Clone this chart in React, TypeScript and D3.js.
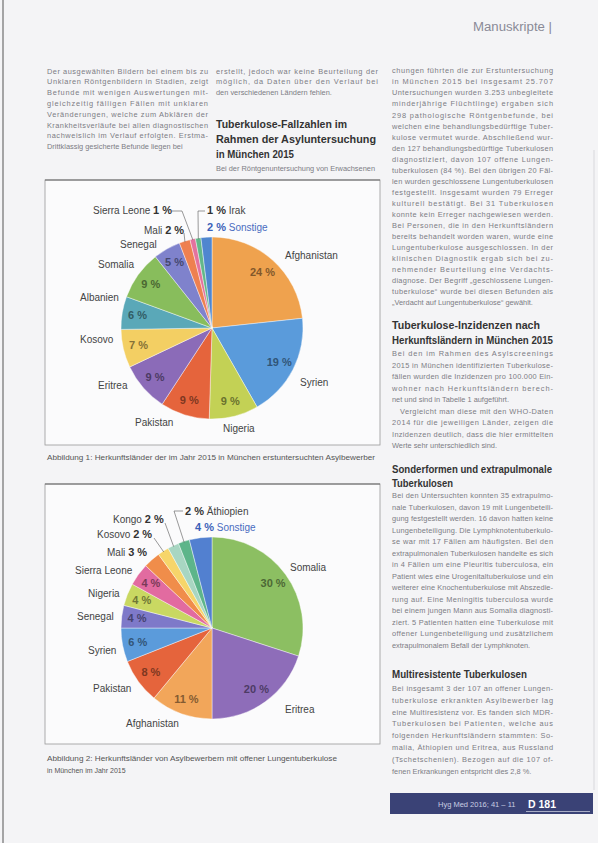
import React from 'react';
import * as d3 from 'd3';

// ---------- DATA ----------
const chart1Countries = ['Afghanistan', 'Syrien', 'Nigeria', 'Pakistan', 'Eritrea', 'Kosovo', 'Albanien', 'Somalia', 'Senegal', 'Mali', 'Sierra Leone', 'Irak', 'Sonstige'];
const chart1Values = [24, 19, 9, 9, 9, 7, 6, 9, 5, 2, 1, 1, 2];

const chart2Countries = ['Somalia', 'Eritrea', 'Afghanistan', 'Pakistan', 'Syrien', 'Senegal', 'Nigeria', 'Sierra Leone', 'Mali', 'Kosovo', 'Kongo', 'Äthiopien', 'Sonstige'];
const chart2Values = [30, 20, 11, 8, 6, 4, 4, 4, 3, 2, 2, 2, 4];

const caption1 = 'Abbildung 1: Herkunftsländer der im Jahr 2015 in München erstuntersuchten Asylbewerber';
const caption2a = 'Abbildung 2: Herkunftsländer von Asylbewerbern mit offener Lungentuberkulose';
const caption2b = 'in München im Jahr 2015';

const headerText = 'Manuskripte |';
const footerText = 'Hyg Med 2016; 41 – 11';
const footerPage = 'D 181';

const col1Paragraphs = [[
  'Der ausgewählten Bildern bei einem bis zu',
  'Unklaren Röntgenbildern in Stadien, zeigt',
  'Befunde mit wenigen Auswertungen mit-',
  'gleichzeitig fälligen Fällen mit unklaren',
  'Veränderungen, welche zum Abklären der',
  'Krankheitsverläufe bei allen diagnostischen',
  'nachweislich im Verlauf erfolgten. Erstma-',
  'Drittklassig gesicherte Befunde liegen bei',
]];
const col2Paragraphs = [[
  'erstellt, jedoch war keine Beurteilung der',
  'möglich, da Daten über den Verlauf bei',
  'den verschiedenen Ländern fehlen.',
]];
const col2Heading = ['Tuberkulose-Fallzahlen im', 'Rahmen der Asyluntersuchung', 'in München 2015'];
const col2After = [['Bei der Röntgenuntersuchung von Erwachsenen']];

const col3BlockA = [[
  'chungen führten die zur Erstuntersuchung',
  'in München 2015 bei insgesamt 25.707',
  'Untersuchungen wurden 3.253 unbegleitete',
  'minderjährige Flüchtlinge) ergaben sich',
  '298 pathologische Röntgenbefunde, bei',
  'welchen eine behandlungsbedürftige Tuber-',
  'kulose vermutet wurde. Abschließend wur-',
  'den 127 behandlungsbedürftige Tuberkulosen',
  'diagnostiziert, davon 107 offene Lungen-',
  'tuberkulosen (84 %). Bei den übrigen 20 Fäl-',
  'len wurden geschlossene Lungentuberkulosen',
  'festgestellt. Insgesamt wurden 79 Erreger',
  'kulturell bestätigt. Bei 31 Tuberkulosen',
  'konnte kein Erreger nachgewiesen werden.',
  'Bei Personen, die in den Herkunftsländern',
  'bereits behandelt worden waren, wurde eine',
  'Lungentuberkulose ausgeschlossen. In der',
  'klinischen Diagnostik ergab sich bei zu-',
  'nehmender Beurteilung eine Verdachts-',
  'diagnose. Der Begriff „geschlossene Lungen-',
  'tuberkulose“ wurde bei diesen Befunden als',
  '„Verdacht auf Lungentuberkulose“ gewählt.',
]];
const col3Heading1 = ['Tuberkulose-Inzidenzen nach', 'Herkunftsländern in München 2015'];
const col3BlockB = [[
  'Bei den im Rahmen des Asylscreenings',
  '2015 in München identifizierten Tuberkulose-',
  'fällen wurden die Inzidenzen pro 100.000 Ein-',
  'wohner nach Herkunftsländern berech-',
  'net und sind in Tabelle 1 aufgeführt.',
], [
  'Vergleicht man diese mit den WHO-Daten',
  '2014 für die jeweiligen Länder, zeigen die',
  'Inzidenzen deutlich, dass die hier ermittelten',
  'Werte sehr unterschiedlich sind.',
]];
const col3Heading2 = ['Sonderformen und extrapulmonale', 'Tuberkulosen'];
const col3BlockC = [[
  'Bei den Untersuchten konnten 35 extrapulmo-',
  'nale Tuberkulosen, davon 19 mit Lungenbeteili-',
  'gung festgestellt werden. 16 davon hatten keine',
  'Lungenbeteiligung. Die Lymphknotentuberkulo-',
  'se war mit 17 Fällen am häufigsten. Bei den',
  'extrapulmonalen Tuberkulosen handelte es sich',
  'in 4 Fällen um eine Pleuritis tuberculosa, ein',
  'Patient wies eine Urogenitaltuberkulose und ein',
  'weiterer eine Knochentuberkulose mit Abszedie-',
  'rung auf. Eine Meningitis tuberculosa wurde',
  'bei einem jungen Mann aus Somalia diagnosti-',
  'ziert. 5 Patienten hatten eine Tuberkulose mit',
  'offener Lungenbeteiligung und zusätzlichem',
  'extrapulmonalem Befall der Lymphknoten.',
]];
const col3Heading3 = ['Multiresistente Tuberkulosen'];
const col3BlockD = [[
  'Bei insgesamt 3 der 107 an offener Lungen-',
  'tuberkulose erkrankten Asylbewerber lag',
  'eine Multiresistenz vor. Es fanden sich MDR-',
  'Tuberkulosen bei Patienten, welche aus',
  'folgenden Herkunftsländern stammten: So-',
  'malia, Äthiopien und Eritrea, aus Russland',
  '(Tschetschenien). Bezogen auf die 107 of-',
  'fenen Erkrankungen entspricht dies 2,8 %.',
]];

// ---------- STYLES / LAYOUT ----------
const chart1Colors = ['#EFA24E', '#5A9BDB', '#C3D155', '#E5643C', '#8B6BB8', '#F3CF63', '#5AA8B8', '#88BD5C', '#7F82CC', '#EE8050', '#E4729E', '#63B889', '#4F86CF'];
const chart2Colors = ['#8CBF62', '#8E6DB9', '#F2A65A', '#E5643C', '#5B9BDB', '#7E79C9', '#C9D862', '#E26BA0', '#F08D4A', '#F6D56A', '#A8D6C2', '#5DB58A', '#5280D0'];

type Lbl = { x: number; y: number; kind: 'name' | 'namePct' | 'pctName'; leader?: [number, number][] };

const chart1Labels: Lbl[] = [
  { x: 285, y: 259, kind: 'name' },
  { x: 300, y: 386, kind: 'name' },
  { x: 223, y: 432, kind: 'name' },
  { x: 135, y: 426, kind: 'name' },
  { x: 98, y: 389, kind: 'name' },
  { x: 80, y: 343, kind: 'name' },
  { x: 80, y: 301, kind: 'name' },
  { x: 98, y: 268, kind: 'name' },
  { x: 120, y: 248, kind: 'name' },
  { x: 144, y: 234, kind: 'namePct', leader: [[184, 233]] },
  { x: 93, y: 214, kind: 'namePct', leader: [[172, 211], [182, 211]] },
  { x: 207, y: 214, kind: 'pctName', leader: [[205, 211], [198, 211]] },
  { x: 207, y: 231, kind: 'pctName' },
];
const chart2Labels: Lbl[] = [
  { x: 290, y: 571, kind: 'name' },
  { x: 285, y: 713, kind: 'name' },
  { x: 126, y: 727, kind: 'name' },
  { x: 93, y: 692, kind: 'name' },
  { x: 88, y: 654, kind: 'name' },
  { x: 77, y: 620, kind: 'name' },
  { x: 88, y: 597, kind: 'name' },
  { x: 75, y: 574, kind: 'name' },
  { x: 107, y: 556, kind: 'namePct' },
  { x: 97, y: 538, kind: 'namePct', leader: [[154, 538]] },
  { x: 113, y: 523, kind: 'namePct', leader: [[165, 523]] },
  { x: 185, y: 515, kind: 'pctName', leader: [[183, 511], [174, 511]] },
  { x: 195, y: 531, kind: 'pctName' },
];

const FONT = 'Liberation Sans, Arial, sans-serif';
const BODY_COLOR = '#7c7c84';

function Pie({ cx, cy, r, countries, values, colors, labels }: any) {
  const pie = d3.pie<number>().sort(null).value((d) => d);
  const arcs = pie(values);
  const arc = d3.arc<d3.PieArcDatum<number>>().innerRadius(0).outerRadius(r);
  const labelArc = d3.arc<d3.PieArcDatum<number>>().innerRadius(r * 0.83).outerRadius(r * 0.83);
  const outerPt = (a: d3.PieArcDatum<number>) => {
    const m = (a.startAngle + a.endAngle) / 2;
    return [cx + Math.sin(m) * (r - 1), cy - Math.cos(m) * (r - 1)];
  };
  return (
    <g>
      <g transform={`translate(${cx},${cy})`}>
        {arcs.map((a, i) => (
          <path key={i} d={arc(a) as string} fill={colors[i]} stroke="#ffffff" strokeWidth={0.6} strokeOpacity={0.7} />
        ))}
        {arcs.map((a, i) => {
          if (labels[i].kind !== 'name') return null;
          const [x, y] = labelArc.centroid(a);
          const c = d3.color(colors[i])!.darker(1.7).formatHex();
          return (
            <text key={i} x={x} y={y} dy="0.35em" textAnchor="middle" fontFamily={FONT} fontWeight="bold" fontSize={11} fill={c}>
              {`${values[i]} %`}
            </text>
          );
        })}
      </g>
      {labels.map((l: Lbl, i: number) => {
        if (!l.leader) return null;
        const pts = [...l.leader, outerPt(arcs[i])];
        return <polyline key={'l' + i} points={pts.map((p) => p.join(',')).join(' ')} fill="none" stroke="#555" strokeWidth={0.6} />;
      })}
      {labels.map((l: Lbl, i: number) => {
        const isOther = countries[i] === 'Sonstige';
        const nameFill = isOther ? '#4a6cc0' : '#444';
        const pctFill = isOther ? '#3a5fb8' : '#333';
        const pct = `${values[i]} %`;
        return (
          <text key={'t' + i} x={l.x} y={l.y} fontFamily={FONT} fontSize={10} fill={nameFill}>
            {l.kind === 'name' && countries[i]}
            {l.kind === 'namePct' && (
              <>
                <tspan>{countries[i] + ' '}</tspan>
                <tspan fontWeight="bold" fontSize={11} fill={pctFill}>{pct}</tspan>
              </>
            )}
            {l.kind === 'pctName' && (
              <>
                <tspan fontWeight="bold" fontSize={11} fill={pctFill}>{pct}</tspan>
                <tspan>{' ' + countries[i]}</tspan>
              </>
            )}
          </text>
        );
      })}
    </g>
  );
}

function TextBlock({ x, width, y0, step, paragraphs }: { x: number; width: number; y0: number; step: number; paragraphs: string[][] }) {
  const out: any[] = [];
  let idx = 0;
  paragraphs.forEach((p, pi) => {
    p.forEach((line, li) => {
      const last = li === p.length - 1;
      const indent = pi > 0 && li === 0 ? 8 : 0;
      const y = y0 + idx * step;
      out.push(
        <text key={idx} x={x + indent} y={y} fontFamily={FONT} fontSize={7.4} fill={BODY_COLOR}
          {...(last ? {} : { textLength: width - indent, lengthAdjust: 'spacing' })}>
          {line}
        </text>
      );
      idx++;
    });
  });
  return <g>{out}</g>;
}

function Heading({ x, y0, step, lines, widths }: { x: number; y0: number; step: number; lines: string[]; widths: number[] }) {
  return (
    <g>
      {lines.map((l, i) => (
        <text key={i} x={x} y={y0 + i * step} fontFamily={FONT} fontWeight="bold" fontSize={10} fill="#333"
          textLength={widths[i]} lengthAdjust="spacingAndGlyphs">{l}</text>
      ))}
    </g>
  );
}

export default function App() {
  const W = 598, H = 843;
  return (
    <svg width={W} height={H} viewBox={`0 0 ${W} ${H}`} style={{ position: 'absolute', left: 0, top: 0, display: 'block' }}>
      <rect x={0} y={0} width={W} height={H} fill="#f4f4f6" />
      <line x1={3} y1={0} x2={3} y2={H} stroke="#8a8a8a" strokeWidth={1.5} />
      <line x1={594} y1={150} x2={594} y2={790} stroke="#d8d8dc" strokeWidth={1} />

      {/* header */}
      <text x={473} y={31} fontFamily={FONT} fontSize={12.5} fill="#8a8a96" textLength={79} lengthAdjust="spacingAndGlyphs">{headerText}</text>

      {/* columns */}
      <TextBlock x={47} width={161} y0={73.5} step={10.8} paragraphs={col1Paragraphs} />
      <TextBlock x={216} width={162} y0={73.5} step={10.8} paragraphs={col2Paragraphs} />
      <Heading x={216} y0={128} step={15} lines={col2Heading} widths={[131, 160, 78]} />
      <TextBlock x={216} width={162} y0={171} step={10.8} paragraphs={col2After} />

      <TextBlock x={392} width={161} y0={73.3} step={11.05} paragraphs={col3BlockA} />
      <Heading x={392} y0={329} step={15} lines={col3Heading1} widths={[148, 161]} />
      <TextBlock x={392} width={161} y0={356} step={11.5} paragraphs={col3BlockB} />
      <Heading x={392} y0={473} step={14} lines={col3Heading2} widths={[160, 61]} />
      <TextBlock x={392} width={161} y0={498} step={11.5} paragraphs={col3BlockC} />
      <Heading x={392} y0={678} step={14} lines={col3Heading3} widths={[135]} />
      <TextBlock x={392} width={161} y0={691} step={11.8} paragraphs={col3BlockD} />

      {/* panel 1 */}
      <rect x={45} y={180} width={335} height={265} fill="#fbfbfc" stroke="#9a9a9a" strokeWidth={0.8} />
      <line x1={45} y1={180} x2={380} y2={180} stroke="#666" strokeWidth={1.2} />
      <Pie cx={212} cy={328} r={91} countries={chart1Countries} values={chart1Values} colors={chart1Colors} labels={chart1Labels} />
      <text x={47} y={460} fontFamily={FONT} fontSize={7} fill="#555" textLength={328} lengthAdjust="spacingAndGlyphs">{caption1}</text>

      {/* panel 2 */}
      <rect x={45} y={484} width={335} height={260} fill="#fbfbfc" stroke="#9a9a9a" strokeWidth={0.8} />
      <line x1={45} y1={484} x2={380} y2={484} stroke="#666" strokeWidth={1.2} />
      <Pie cx={212} cy={628} r={91} countries={chart2Countries} values={chart2Values} colors={chart2Colors} labels={chart2Labels} />
      <text x={47} y={761} fontFamily={FONT} fontSize={7} fill="#555" textLength={290} lengthAdjust="spacingAndGlyphs">{caption2a}</text>
      <text x={47} y={773} fontFamily={FONT} fontSize={7} fill="#555">{caption2b}</text>

      {/* footer */}
      <rect x={390} y={793} width={203} height={21} fill="#3a4276" />
      <text x={438} y={807} fontFamily={FONT} fontSize={7.5} fill="#c9cde2">{footerText}</text>
      <text x={528} y={808} fontFamily={FONT} fontSize={10.5} fontWeight="bold" fill="#ffffff">{footerPage}</text>
      <line x1={526} y1={811.5} x2={590} y2={811.5} stroke="#d8dbe8" strokeWidth={0.7} />
    </svg>
  );
}
